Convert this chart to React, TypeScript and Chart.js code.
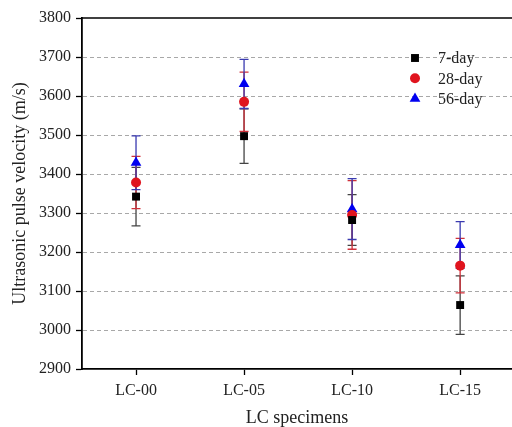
import React, { useEffect, useRef } from 'react';
import { Chart, registerables } from 'chart.js';

Chart.register(...registerables);

const categories = ['LC-00', 'LC-05', 'LC-10', 'LC-15'];
const seriesLabels = ['7-day', '28-day', '56-day'];
const day7 = [3342, 3497, 3282, 3064];
const day7Err = [75, 70, 65, 75];
const day28 = [3378, 3585, 3295, 3165];
const day28Err = [67, 76, 88, 70];
const day56 = [3429, 3631, 3310, 3218];
const day56Err = [69, 63, 78, 60];
const gridValues = [3000, 3100, 3200, 3300, 3400, 3500, 3600, 3700];

const markerColors = ['#000000', '#e0141e', '#0000f0'];
const errColors = ['#444444', '#d0303a', '#3a3ab0'];
const pointStyles = ['rect', 'circle', 'triangle'];
const pointRadii = [5.6, 5, 6.2];

const FONT = "'Liberation Serif', 'Times New Roman', serif";

function drawMarker(ctx: CanvasRenderingContext2D, style: string, x: number, y: number, r: number) {
  ctx.beginPath();
  if (style === 'rect') {
    const s = Math.SQRT1_2 * r;
    ctx.rect(x - s, y - s, 2 * s, 2 * s);
  } else if (style === 'circle') {
    ctx.arc(x, y, r, 0, Math.PI * 2);
  } else {
    ctx.moveTo(x, y - r);
    ctx.lineTo(x + Math.sin((2 * Math.PI) / 3) * r, y + r / 2);
    ctx.lineTo(x - Math.sin((2 * Math.PI) / 3) * r, y + r / 2);
    ctx.closePath();
  }
  ctx.fill();
}

export default function App() {
  const ref = useRef<HTMLCanvasElement | null>(null);

  useEffect(() => {
    document.body.style.margin = '0';
    const canvas = ref.current;
    if (!canvas) return;
    const means = [day7, day28, day56];
    const errs = [day7Err, day28Err, day56Err];

    const customPlugin = {
      id: 'customDecor',
      beforeDatasetsDraw(chart: any) {
        const { ctx, chartArea, scales } = chart;
        const xs = scales.x;
        const ys = scales.y;
        ctx.save();
        ctx.strokeStyle = '#a8a8a8';
        ctx.lineWidth = 1;
        ctx.setLineDash([4, 3]);
        gridValues.forEach((v) => {
          const py = Math.round(ys.getPixelForValue(v)) + 0.5;
          ctx.beginPath();
          ctx.moveTo(chartArea.left + 1, py);
          ctx.lineTo(chartArea.right, py);
          ctx.stroke();
        });
        ctx.setLineDash([]);
        ctx.strokeStyle = '#000';
        ctx.lineWidth = 1.6;
        ctx.beginPath();
        ctx.moveTo(chartArea.left, chartArea.top);
        ctx.lineTo(chartArea.right, chartArea.top);
        ctx.stroke();
        means.forEach((vals, si) => {
          ctx.strokeStyle = errColors[si];
          ctx.lineWidth = 1.3;
          vals.forEach((v, i) => {
            const px = xs.getPixelForValue(i);
            const top = ys.getPixelForValue(v + errs[si][i]);
            const bot = ys.getPixelForValue(v - errs[si][i]);
            ctx.beginPath();
            ctx.moveTo(px, top);
            ctx.lineTo(px, bot);
            ctx.moveTo(px - 4.5, top);
            ctx.lineTo(px + 4.5, top);
            ctx.moveTo(px - 4.5, bot);
            ctx.lineTo(px + 4.5, bot);
            ctx.stroke();
          });
        });
        ctx.restore();
      },
      afterDatasetsDraw(chart: any) {
        const { ctx } = chart;
        ctx.save();
        const lx = 415;
        const ly0 = 58;
        seriesLabels.forEach((lab, si) => {
          const ly = ly0 + si * 20.3;
          ctx.fillStyle = markerColors[si];
          drawMarker(ctx, pointStyles[si], lx, ly, pointRadii[si]);
          ctx.fillStyle = '#222';
          ctx.font = `16px ${FONT}`;
          ctx.textBaseline = 'middle';
          ctx.textAlign = 'left';
          ctx.fillText(lab, 438, ly + 1);
        });
        ctx.restore();
      },
    };

    const chart = new Chart(canvas, {
      type: 'scatter',
      data: {
        datasets: seriesLabels.map((lab, si) => ({
          label: lab,
          data: means[si].map((v, i) => ({ x: i, y: v })),
          backgroundColor: markerColors[si],
          borderColor: markerColors[si],
          borderWidth: 0,
          pointStyle: pointStyles[si] as any,
          pointRadius: pointRadii[si],
          showLine: false,
        })),
      },
      options: {
        animation: false,
        responsive: false,
        maintainAspectRatio: false,
        layout: { autoPadding: false, padding: { top: 18, right: 0, left: 0, bottom: 0 } },
        plugins: {
          legend: { display: false },
          tooltip: { enabled: false },
        },
        scales: {
          x: {
            type: 'linear',
            min: -0.5,
            max: 3.48,
            afterBuildTicks: (scale: any) => {
              scale.ticks = categories.map((_, i) => ({ value: i }));
            },
            afterFit: (scale: any) => {
              scale.height = 58;
              scale.paddingLeft = 0;
              scale.paddingRight = 0;
            },
            ticks: {
              callback: (v: any) => categories[Number(v)] ?? '',
              font: { family: FONT, size: 16 },
              color: '#222',
              padding: 6,
              maxRotation: 0,
              autoSkip: false,
            },
            grid: {
              drawOnChartArea: false,
              tickLength: 6,
              tickColor: '#000',
              tickWidth: 1.3,
            },
            border: { color: '#000', width: 1.8 },
            title: {
              display: true,
              text: 'LC specimens',
              font: { family: FONT, size: 18, lineHeight: 1.0 },
              color: '#222',
              padding: { top: 0, bottom: 0 },
            },
          },
          y: {
            min: 2900,
            max: 3800,
            afterFit: (scale: any) => {
              scale.width = 82;
            },
            ticks: {
              stepSize: 100,
              callback: (v: any) => String(v),
              font: { family: FONT, size: 16 },
              color: '#222',
              padding: 5,
            },
            grid: {
              drawOnChartArea: false,
              tickLength: 6,
              tickColor: '#000',
              tickWidth: 1.3,
            },
            border: { color: '#000', width: 1.8 },
            title: {
              display: true,
              text: 'Ultrasonic pulse velocity (m/s)',
              font: { family: FONT, size: 18 },
              color: '#222',
              padding: { top: 9, bottom: 0 },
            },
          },
        },
      },
      plugins: [customPlugin],
    } as any);

    return () => chart.destroy();
  }, []);

  return (
    <div style={{ width: 512, height: 427 }}>
      <canvas ref={ref} width={512} height={427} />
    </div>
  );
}
